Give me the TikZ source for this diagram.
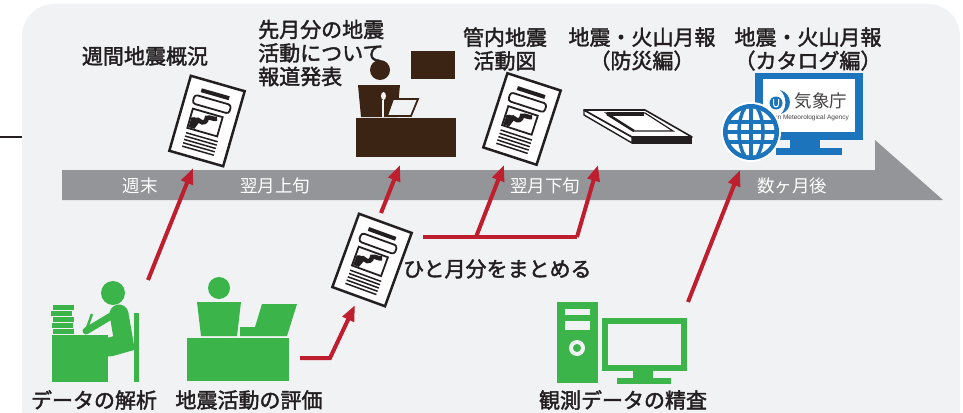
\documentclass[tikz,border=0pt]{standalone}
\usepackage{fontspec}
\newfontfamily\jp{Noto Sans CJK JP}[AutoFakeBold=2]
\newfontfamily\en{Liberation Sans}
\usetikzlibrary{arrows.meta}

\definecolor{panel}{HTML}{F1F2F4}
\definecolor{band}{HTML}{939598}
\definecolor{ink}{HTML}{231F20}
\definecolor{jmared}{HTML}{BE1E2D}
\definecolor{jmagreen}{HTML}{3BB54A}
\definecolor{jmabrown}{HTML}{3C2415}
\definecolor{jmablue}{HTML}{1C75BC}

\tikzset{
  redarrow/.style={draw=jmared, line width=4pt, -{Triangle[length=16pt,width=12pt]}},
  redline/.style={draw=jmared, line width=4pt},
  title/.style={font=\jp\fontsize{21}{23.5}\selectfont\bfseries, text=ink, inner sep=0pt},
  barlabel/.style={font=\jp\fontsize{17.5}{20}\selectfont, text=white, inner sep=0pt},
  % tilted report sheet
  docsheet/.pic={
    \draw[ink, fill=white, line width=2.5pt] (-28,-39) rectangle (28,39);
    \draw[ink, line width=4pt] (-14,-28) -- (15,-28);
    \draw[ink, line width=1.8pt, rounded corners=3pt] (-19,-22) rectangle (19,-13);
    \draw[ink, line width=1.8pt] (-17,-8) rectangle (14,12);
    \fill[ink] (-16,11) -- (-16,1) .. controls (-12,-2) and (-9,1) .. (-7,3) -- (-10,11) -- cycle;
    \draw[ink, line width=4.5pt] (-12,8) .. controls (-13,3) and (-10,0) .. (-7,2)
      .. controls (-3,4) and (0,1) .. (-1,-3) .. controls (2,-5) and (6,-3) .. (9,-5);
    \foreach \y in {17,20.5,24,27.5,31}
      \draw[ink, line width=1.5pt] (-17,\y) -- (16,\y);
  }
}

\begin{document}
\begin{tikzpicture}[x=1pt, y=-1pt]
\useasboundingbox (0,0) rectangle (963,412);

% Panel
\fill[panel, rounded corners=32pt] (22,4) rectangle (960,440);
\draw[ink, line width=2pt] (0,137) -- (22,137);

% Time band
\fill[band] (62,170) -- (875,170) -- (875,140) -- (943,200) -- (62,200) -- cycle;
\node[barlabel] (t1) at (140,186) {週末};
\node[barlabel] (t2) at (275,186) {翌月上旬};
\node[barlabel] (t3) at (545,186) {翌月下旬};
\node[barlabel] (t4) at (792,186) {数ヶ月後};

% Weekly report
\node[title] (weekly) at (145,56) {週間地震概況};
\pic[rotate=-16] at (207,121) {docsheet};

% Press release
\node[title, anchor=west, align=left] (press) at (258,53) {先月分の地震\\活動について\\報道発表};
\fill[jmabrown] (411,51) rectangle (455,79);
\fill[jmabrown] (380,70) circle (10pt);
\fill[jmabrown] (358,85) -- (400,85) -- (397,117) -- (361,117) -- cycle;
\draw[panel, line width=1.6pt] (383,100) -- (383,117);
\fill[panel] (383.5,96) ellipse (2.5pt and 4pt);
\draw[jmabrown, fill=panel, line width=1.8pt] (393,99) -- (418,99) -- (411,116) -- (387,116) -- cycle;
\fill[jmabrown] (356,118) rectangle (456,157);

% Regional activity map
\node[title, align=center] (regional) at (505,49) {管内地震\\活動図};
\pic[rotate=-18] at (522,119) {docsheet};

% Monthly report, disaster edition
\node[title, align=center] (bosai) at (642,49) {地震・火山月報\\（防災編）};
\draw[ink, fill=white, line width=1.4pt, line join=round] (584,110) -- (632,137) -- (632,143) -- (584,115) -- cycle;
\fill[ink] (632,137) -- (692,137) -- (692,144) -- (632,144) -- cycle;
\draw[ink, fill=white, line width=1.6pt, line join=round] (584,110) -- (645,110) -- (692,137) -- (632,137) -- cycle;
\draw[ink, line width=1.2pt] (606,113) -- (645,113) -- (673,131) -- (634,131) -- cycle;
\draw[ink, line width=3.5pt] (607,114) -- (644,114);
\draw[ink, line width=2.5pt] (607,114) -- (634,131);

% Monthly report, catalogue edition
\node[title, align=center] (catalog) at (808,49) {地震・火山月報\\（カタログ編）};
\fill[jmablue] (755,73) rectangle (863,140);
\fill[white] (763,79) rectangle (855,132);
\fill[jmablue] (790,140) rectangle (820,148);
\fill[jmablue] (776,148) rectangle (842,155);
\fill[jmablue] (776,103) circle (6.5pt);
\draw[white, line width=1pt] (773.5,99) -- (773.5,104) .. controls (773.5,108) and (778.5,108) .. (778.5,104) -- (778.5,99);
\fill[jmablue] (780,90) .. controls (793,94) and (793,110) .. (781,114) .. controls (787,108) and (787,96) .. cycle;
\node[font=\jp\fontsize{17.5}{18}\selectfont, text=ink!85, inner sep=0pt] (jmaname) at (821,101) {気象庁};
\node[font=\en\fontsize{6.5}{7}\selectfont, text=ink!85, inner sep=0pt, anchor=east] (jmaeng) at (849,118) {Japan Meteorological Agency};
% globe
\fill[white] (751,132) circle (30pt);
\fill[jmablue] (751,132) circle (28pt);
\fill[white] (751,132) circle (23.5pt);
\begin{scope}
  \clip (751,132) circle (24pt);
  \foreach \y in {122,132,142}
    \draw[jmablue, line width=3.5pt] (720,\y) -- (782,\y);
  \draw[jmablue, line width=3.5pt] (751,100) -- (751,164);
  \draw[jmablue, line width=3.5pt] (751,132) ellipse (12pt and 28pt);
\end{scope}

% Data analysis
\fill[jmagreen] (113,293) circle (12pt);
\fill[jmagreen] (52,335) rectangle (108,382);
\foreach \y/\dx in {307/1,313/-1,319/1,325/0,331/1}
  \fill[jmagreen] (52+\dx,\y-2.5) rectangle (73+\dx,\y+2.5);
\draw[jmagreen, line width=2.5pt] (92,314) -- (87,328);
\draw[jmagreen, line width=7pt, line cap=round] (116,313) -- (86,331);
\draw[jmagreen, line width=19pt, line cap=round] (119,314) -- (124,343) -- (110,347);
\fill[jmagreen] (134,313) rectangle (139,382);
\node[title] (analysis) at (94,400) {データの解析};

% Activity evaluation
\fill[jmagreen] (219,288) circle (11pt);
\fill[jmagreen] (197,302) -- (241,302) -- (237,336) -- (201,336) -- cycle;
\fill[jmagreen] (240,327) -- (255,327) -- (262,304) -- (297,304) -- (287,336) -- (240,336) -- cycle;
\fill[jmagreen] (187,338) rectangle (289,381);
\node[title] (evaluation) at (249,400) {地震活動の評価};

% Monthly summary
\pic[rotate=-20] at (372,260) {docsheet};
\node[title, anchor=west] (summary) at (403,269) {ひと月分をまとめる};

% Data inspection
\fill[jmagreen] (557,302) rectangle (598,383);
\fill[panel] (565,309) rectangle (590,315);
\fill[panel] (565,321) rectangle (590,330);
\fill[panel] (577,348) circle (8pt);
\fill[jmagreen] (577,348) circle (4pt);
\fill[jmagreen] (602,318) rectangle (687,371);
\fill[panel] (608,324) rectangle (681,365);
\fill[jmagreen] (633,371) rectangle (653,378);
\fill[jmagreen] (617,378) rectangle (671,384);
\node[title] (inspection) at (623,400) {観測データの精査};

% Flow arrows
\coordinate (anaout) at (148,280);
\coordinate (weeklyin) at (193,168);
\coordinate (evalout) at (300,358);
\coordinate (evalbend) at (330,358);
\coordinate (sumin) at (355,305);
\coordinate (sumup) at (381,213);
\coordinate (pressin) at (400,165);
\coordinate (sumright) at (423,237);
\coordinate (fork) at (476,237);
\coordinate (forkend) at (577,237);
\coordinate (regionalin) at (504,165);
\coordinate (bosaiin) at (598,165);
\coordinate (inspout) at (688,302);
\coordinate (catalogin) at (740,170);

\draw[redarrow] (anaout) -- (weeklyin);
\draw[redarrow] (evalout) -- (evalbend) -- (sumin);
\draw[redarrow] (sumup) -- (pressin);
\draw[redline] (sumright) -- (forkend);
\draw[redarrow] (fork) -- (regionalin);
\draw[redarrow] (forkend) -- (bosaiin);
\draw[redarrow] (inspout) -- (catalogin);

\end{tikzpicture}
\end{document}
